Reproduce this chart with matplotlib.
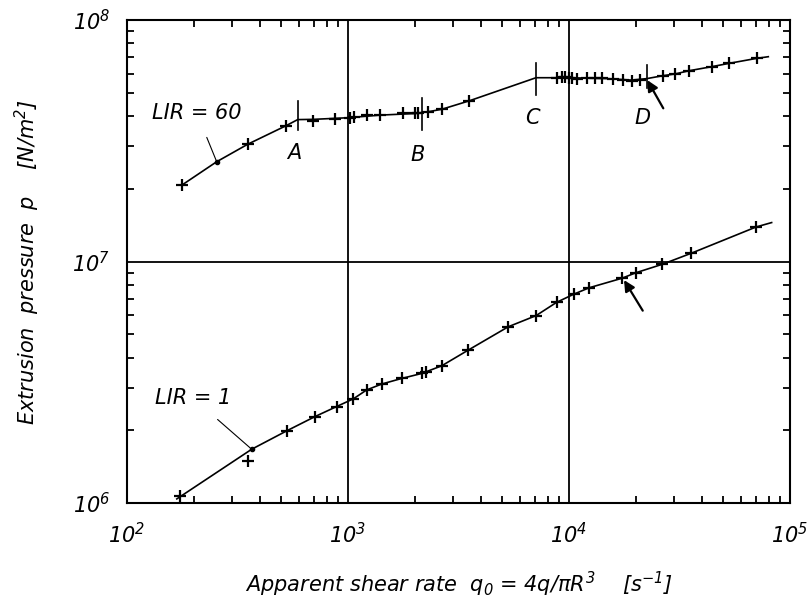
import matplotlib.pyplot as plt
from matplotlib.ticker import LogLocator, NullFormatter

plt.rcParams['font.family'] = ['DejaVu Sans']
plt.rcParams['font.style'] = 'italic'
plt.rcParams['mathtext.default'] = 'it'

# LIR = 60 : drawn curve and measured points
lir60_line_x = [176.8, 254.6, 351.8, 524, 592, 700, 1000, 1400, 2000, 2300, 2655,
                3540, 7093, 10000, 15000, 19200, 22470, 26540, 30170, 35020,
                44230, 53130, 70680, 79770]
lir60_line_y = [2.07e7, 2.59e7, 3.06e7, 3.65e7, 3.87e7, 3.88e7, 3.94e7, 4.04e7, 4.1e7,
                4.17e7, 4.27e7, 4.63e7, 5.77e7, 5.77e7, 5.72e7, 5.64e7, 5.72e7, 5.88e7,
                5.98e7, 6.17e7, 6.41e7, 6.62e7, 6.94e7, 7.05e7]
lir60_x = [176.8, 351.8, 524, 694, 873, 1021, 1064, 1215, 1396, 1774, 2010, 2073,
           2301, 2655, 3540, 8853, 9297, 9592, 10000, 10320, 10870, 12030, 13110,
           14060, 15870, 17610, 19220, 20960, 26540, 30170, 35020, 44230, 53130, 70680]
lir60_y = [2.07e7, 3.06e7, 3.65e7, 3.82e7, 3.88e7, 3.94e7, 3.96e7, 4.04e7, 4.04e7,
           4.11e7, 4.11e7, 4.12e7, 4.17e7, 4.27e7, 4.63e7, 5.77e7, 5.8e7, 5.82e7,
           5.78e7, 5.74e7, 5.72e7, 5.74e7, 5.74e7, 5.74e7, 5.72e7, 5.63e7, 5.61e7,
           5.66e7, 5.88e7, 5.98e7, 6.17e7, 6.41e7, 6.62e7, 6.94e7]

# LIR = 1
lir1_line_x = [168, 366.6, 528, 709, 889, 1057, 1215, 1421, 1750, 2156, 2655, 3503,
               5313, 7093, 8796, 10530, 12350, 17320, 20100, 26430, 35540, 70200, 82600]
lir1_line_y = [1.04e6, 1.67e6, 1.99e6, 2.28e6, 2.51e6, 2.70e6, 2.94e6, 3.11e6, 3.28e6,
               3.44e6, 3.70e6, 4.30e6, 5.37e6, 5.97e6, 6.78e6, 7.33e6, 7.79e6, 8.52e6,
               8.99e6, 9.74e6, 1.08e7, 1.39e7, 1.45e7]
lir1_x = [173.7, 354, 528, 709, 889, 1057, 1215, 1421, 1750, 2156, 2265, 2655, 3503,
          5313, 7093, 8796, 10530, 12350, 17320, 20100, 26430, 35540, 70200]
lir1_y = [1.07e6, 1.50e6, 1.99e6, 2.28e6, 2.51e6, 2.70e6, 2.94e6, 3.11e6, 3.28e6,
          3.44e6, 3.50e6, 3.70e6, 4.30e6, 5.37e6, 5.97e6, 6.78e6, 7.33e6, 7.79e6,
          8.52e6, 8.99e6, 9.74e6, 1.08e7, 1.39e7]

# transition marks A..D
mark_names = ['A', 'B', 'C', 'D']
mark_x = [592, 2156, 7093, 22470]
mark_lo = [3.50e7, 3.50e7, 4.89e7, 5.23e7]
mark_hi = [4.62e7, 4.75e7, 6.66e7, 6.51e7]
mark_label_y = [2.81e7, 2.76e7, 3.92e7, 3.92e7]

fig = plt.figure(figsize=(8.11, 6.13), dpi=100)
ax = fig.add_axes([0.1566, 0.1794, 0.8175, 0.7879])
ax.set_xscale('log')
ax.set_yscale('log')
ax.set_xlim(1e2, 1e5)
ax.set_ylim(1e6, 1e8)

for s in ax.spines.values():
    s.set_linewidth(1.5)

ax.axvline(1e3, color='k', lw=1.3)
ax.axvline(1e4, color='k', lw=1.3)
ax.axhline(1e7, color='k', lw=1.3)

ax.plot(lir60_line_x, lir60_line_y, color='k', lw=1.2)
ax.plot(lir60_x, lir60_y, ls='none', marker='+', ms=9, mew=1.6, color='k')
ax.plot(lir1_line_x, lir1_line_y, color='k', lw=1.2)
ax.plot(lir1_x, lir1_y, ls='none', marker='+', ms=9, mew=1.6, color='k')
ax.plot([254.6, 366.6], [2.59e7, 1.67e6], ls='none', marker='o', ms=3, color='k')

for name, x, lo, hi, ly in zip(mark_names, mark_x, mark_lo, mark_hi, mark_label_y):
    ax.plot([x, x], [lo, hi], color='k', lw=1.2)
    ax.text(x * 0.96, ly, name, ha='center', va='center', fontsize=15)

ax.annotate('LIR = 60', xy=(254.6, 2.59e7), xytext=(207, 4.12e7), fontsize=15,
            ha='center', va='center',
            arrowprops=dict(arrowstyle='-', lw=0.8, color='k', shrinkA=9, shrinkB=0))
ax.annotate('LIR = 1', xy=(366.6, 1.67e6), xytext=(200, 2.71e6), fontsize=15,
            ha='center', va='center',
            arrowprops=dict(arrowstyle='-', lw=0.8, color='k', shrinkA=9, shrinkB=0))

ax.annotate('', xy=(22610, 5.64e7), xytext=(26710, 4.31e7),
            arrowprops=dict(arrowstyle='-|>', lw=1.6, color='k', mutation_scale=16,
                            shrinkA=0, shrinkB=0))
ax.annotate('', xy=(17740, 8.38e6), xytext=(21560, 6.26e6),
            arrowprops=dict(arrowstyle='-|>', lw=1.6, color='k', mutation_scale=16,
                            shrinkA=0, shrinkB=0))

ax.set_xticks([1e2, 1e3, 1e4, 1e5])
ax.set_xticklabels(['$10^2$', '$10^3$', '$10^4$', '$10^5$'])
ax.set_yticks([1e6, 1e7, 1e8])
ax.set_yticklabels(['$10^6$', '$10^7$', '$10^8$'])
ax.xaxis.set_minor_locator(LogLocator(base=10, subs=range(2, 10)))
ax.yaxis.set_minor_locator(LogLocator(base=10, subs=range(2, 10)))
ax.xaxis.set_minor_formatter(NullFormatter())
ax.yaxis.set_minor_formatter(NullFormatter())
ax.tick_params(axis='x', which='major', length=0, labelsize=15, pad=14)
ax.tick_params(axis='y', which='major', length=0, labelsize=15, pad=12)
ax.tick_params(which='minor', direction='in', length=5, width=1.3,
               top=True, right=True)

ax.set_xlabel('Apparent shear rate  $q_0$ = 4$q$/$\\pi R^3$    [s$^{-1}$]',
              fontsize=15, labelpad=16)
ax.set_ylabel('Extrusion  pressure  $p$    [N/m$^2$]', fontsize=15, labelpad=22)

fig.savefig('out.png', dpi=100)
